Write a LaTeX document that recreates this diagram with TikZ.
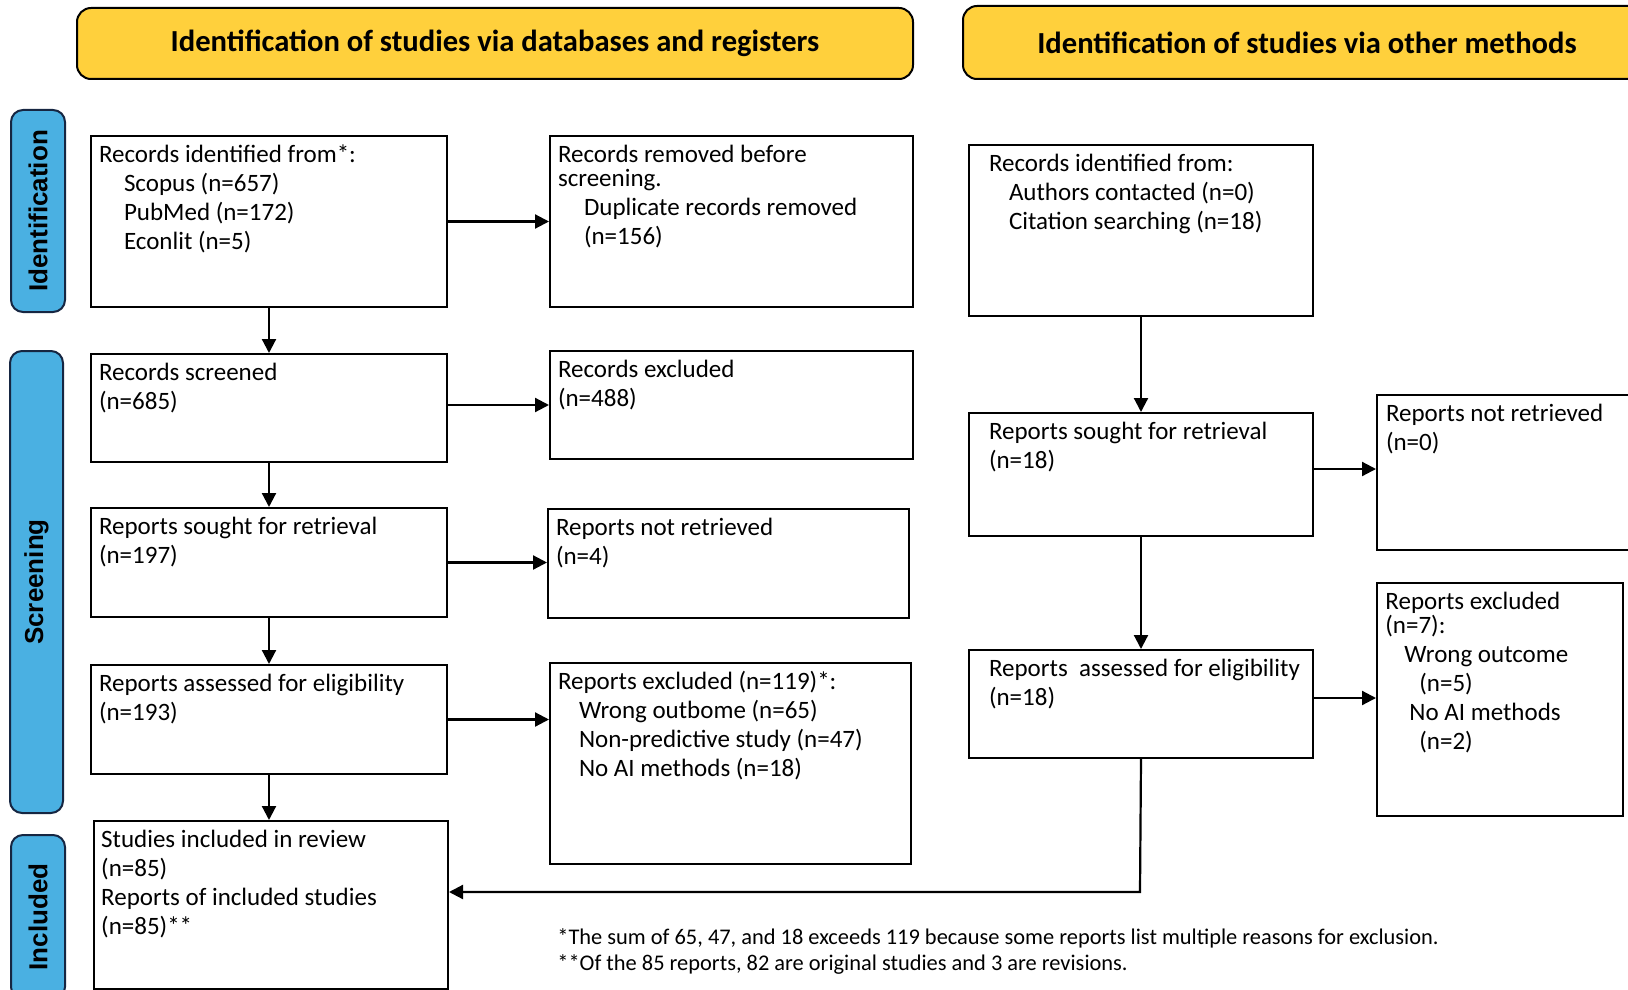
\documentclass[tikz,border=0pt]{standalone}
\usepackage{fontspec}
\setmainfont{Carlito}
\newfontfamily\sidefont{Liberation Sans}
\usepackage{tikz}
\usetikzlibrary{positioning}
\usetikzlibrary{arrows.meta}
\definecolor{headyellow}{RGB}{255,208,60}
\definecolor{sideblue}{RGB}{74,176,226}
\definecolor{sidenavy}{RGB}{22,38,66}
% width, height, left padding, lines
\newcommand{\boxtext}[4]{\parbox[c][#2][t]{#1}{\vspace*{3pt}\hspace*{#3}\begin{tabular}[t]{@{}l@{}}#4\end{tabular}}}

\begin{document}
\begin{tikzpicture}[x=0.5pt, y=-0.5pt,
							box/.style={draw=black, line width=1pt, inner sep=0pt, anchor=north west, font=\fontsize{12.5}{14.5}\selectfont},
							headnode/.style={draw=black, line width=1pt, fill=headyellow, rounded corners=7pt, inner sep=0pt, anchor=north west, font=\bfseries\fontsize{15.3}{18}\selectfont},
							sidenode/.style={draw=sidenavy, line width=1pt, fill=sideblue, rounded corners=6pt, inner sep=0pt, anchor=north west, font=\sidefont\bfseries\fontsize{13}{15}\selectfont},
							arrow/.style={line width=1.1pt, -{Triangle[length=7pt,width=7pt]}},
							]
							\useasboundingbox (0,0) rectangle (1628,990);
							%Headers
							\node[headnode, minimum width=418pt, minimum height=35.5pt]   (head1)   at (76,7)    {Identification of studies via databases and registers};
							\node[headnode, minimum width=344pt, minimum height=36.5pt]   (head2)   at (962,5)   {Identification of studies via other methods};
							%Phases
							\node[sidenode, minimum width=27pt, minimum height=101pt]     (ident)   at (10,109)  {\rotatebox{90}{Identification}};
							\node[sidenode, minimum width=26.5pt, minimum height=231pt]   (screen)  at (9,350)   {\rotatebox{90}{Screening}};
							\node[sidenode, minimum width=27pt, minimum height=82pt]      (incl)    at (10,834)  {\rotatebox{90}{Included}};
							%Databases and registers
							\node[box]      (b1)    at (90,135)     {\boxtext{178pt}{85.5pt}{4pt}{Records identified from*:\\ \hspace*{12.5pt}Scopus (n=657)\\ \hspace*{12.5pt}PubMed (n=172)\\ \hspace*{12.5pt}Econlit (n=5)}};
							\node[box]      (b2)    at (549,135)    {\boxtext{181.5pt}{85.5pt}{4pt}{Records removed before\\[-2.5pt] screening.\\ \hspace*{13pt}Duplicate records removed\\ \hspace*{13pt}(n=156)}};
							\node[box]      (b3)    at (90,353)     {\boxtext{178pt}{54pt}{4pt}{Records screened\\ (n=685)}};
							\node[box]      (b4)    at (549,350)    {\boxtext{181.5pt}{54pt}{4pt}{Records excluded\\ (n=488)}};
							\node[box]      (b5)    at (90,507)     {\boxtext{178pt}{54.5pt}{4pt}{Reports sought for retrieval\\ (n=197)}};
							\node[box]      (b6)    at (547,508)    {\boxtext{180.5pt}{54.5pt}{4pt}{Reports not retrieved\\ (n=4)}};
							\node[box]      (b7)    at (90,664)     {\boxtext{178pt}{54.5pt}{4pt}{Reports assessed for eligibility\\ (n=193)}};
							\node[box]      (b8)    at (549,662)    {\boxtext{180.5pt}{100.5pt}{4pt}{Reports excluded (n=119)*:\\ \hspace*{10.5pt}Wrong outbome (n=65)\\ \hspace*{10.5pt}Non-predictive study (n=47)\\ \hspace*{10.5pt}No AI methods (n=18)}};
							\node[box]      (b9)    at (93,820)     {\boxtext{177pt}{84pt}{3.6pt}{Studies included in review\\ (n=85)\\ Reports of included studies\\ (n=85)**}};
							%Other methods
							\node[box]      (r1)    at (968,144)    {\boxtext{172pt}{85.5pt}{10pt}{Records identified from:\\ \hspace*{10pt}Authors contacted (n=0)\\ \hspace*{10pt}Citation searching (n=18)}};
							\node[box]      (r2)    at (968,412)    {\boxtext{172pt}{61.5pt}{10pt}{Reports sought for retrieval\\ (n=18)}};
							\node[box]      (r3)    at (1376,394)   {\boxtext{140pt}{77.5pt}{4.5pt}{Reports not retrieved\\ (n=0)}};
							\node[box]      (r4)    at (968,649)    {\boxtext{172pt}{54pt}{10pt}{Reports\ \ assessed for eligibility\\ (n=18)}};
							\node[box]      (r5)    at (1376,582)   {\boxtext{123pt}{116.5pt}{4.2pt}{Reports excluded\\[-2.5pt] (n=7):\\ \hspace*{9.5pt}Wrong outcome\\ \hspace*{17pt}(n=5)\\ \hspace*{12pt}No AI methods\\ \hspace*{17pt}(n=2)}};
							\node[anchor=west, inner sep=0pt, align=left, font=\fontsize{11.2}{13}\selectfont] (note) at (557,951) {*The sum of 65, 47, and 18 exceeds 119 because some reports list multiple reasons for exclusion.\\ **Of the 85 reports, 82 are original studies and 3 are revisions.};
							\coordinate (turn) at (1140,892);
							
							%Arrows
							\draw[arrow] (b1.east) --  (b2.west);
							\draw[arrow] (b1.south) --  (b3.north);
							\draw[arrow] ([yshift=1.5pt]b3.east) --  ([yshift=1.5pt]b3.east -| b4.west);
							\draw[arrow] (b3.south) --  (b5.north);
							\draw[arrow] (b5.east) --  (b5.east -| b6.west);
							\draw[arrow] (b5.south) --  (b7.north);
							\draw[arrow] (b7.east) --  (b7.east -| b8.west);
							\draw[arrow] (b7.south) --  (b7.south |- b9.north);
							\draw[arrow] (r1.south) --  (r2.north);
							\draw[arrow] ([yshift=2.75pt]r2.east) --  ([yshift=2.75pt]r2.east -| r3.west);
							\draw[arrow] (r2.south) --  (r4.north);
							\draw[arrow] ([yshift=3pt]r4.east) --  ([yshift=3pt]r4.east -| r5.west);
							\draw[arrow] (r4.south) --  (turn) -- (turn -| b9.east);
						\end{tikzpicture}
\end{document}
